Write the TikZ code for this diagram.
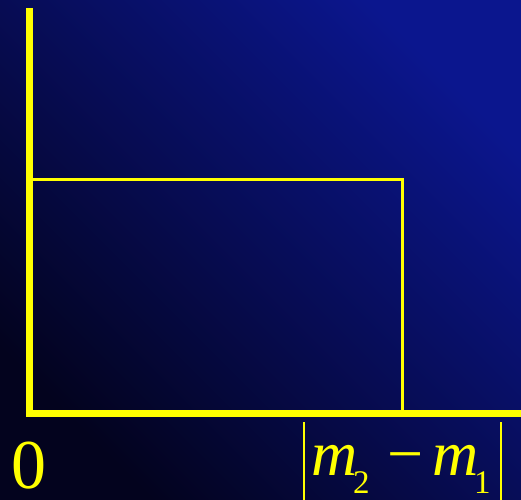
\documentclass[tikz,border=0pt]{standalone}
\usepackage{fontspec}
\setmainfont{Liberation Serif}
\definecolor{bgdark}{RGB}{3,3,30}
\definecolor{bgmid}{RGB}{8,9,68}
\definecolor{bglight}{RGB}{11,22,142}
\definecolor{ylw}{RGB}{255,255,0}
\begin{document}
\begin{tikzpicture}[x=1pt,y=-1pt,
  axisline/.style={draw=ylw,line width=6.5pt},
  boxline/.style={draw=ylw,line width=3pt},
  bigtxt/.style={text=ylw,inner sep=0pt,anchor=base west,font=\fontsize{64}{64}\selectfont},
  subtxt/.style={text=ylw,inner sep=0pt,anchor=base west,font=\fontsize{33}{33}\selectfont},
  zerotxt/.style={text=ylw,inner sep=0pt,anchor=base west,font=\fontsize{70}{70}\selectfont}]
  % background
  \shade[top color=bglight,middle color=bgmid,bottom color=bgdark,shading angle=-45] (0,0) rectangle (521,499);
  \useasboundingbox (0,0) rectangle (521,499);
  % named points
  \coordinate (ytop) at (29.5,8);
  \coordinate (origin) at (29.5,413.7);
  \coordinate (xend) at (521,413.7);
  \coordinate (rtl) at (31,179);
  \coordinate (rtr) at (402,179);
  \coordinate (rbr) at (402,413.7);
  % rectangle
  \draw[boxline] (rtl) -- (rtr) -- (rbr);
  % axes
  \draw[axisline,line cap=rect] (ytop |- 0,11) -- (origin) -- (xend);
  % labels
  \node[zerotxt] (zero) at (11,488) {0};
  \node[bigtxt] (ma) at (311,475) {\itshape m};
  \node[subtxt] (two) at (353,493) {2};
  \node[bigtxt] (minus) at (387,475) {−};
  \node[bigtxt] (mb) at (432,475) {\itshape m};
  \node[subtxt] (one) at (474,493) {1};
  \coordinate (lbt) at (304,422);
  \coordinate (lbb) at (304,503);
  \coordinate (rbt) at (501,422);
  \coordinate (rbb) at (501,503);
  \draw[draw=ylw,line width=2.8pt] (lbt) -- (lbb);
  \draw[draw=ylw,line width=2.8pt] (rbt) -- (rbb);
\end{tikzpicture}
\end{document}
